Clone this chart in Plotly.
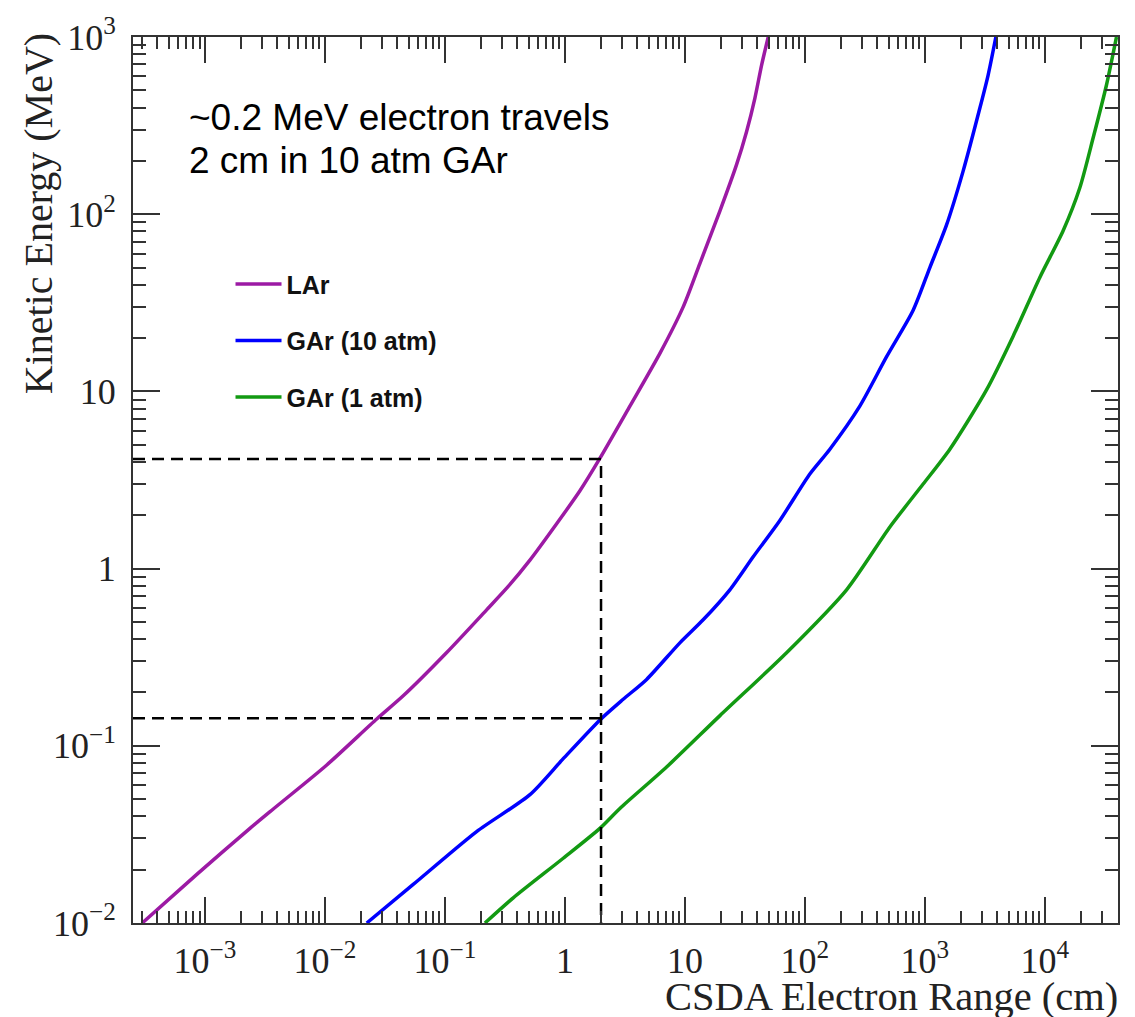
import numpy as np
import plotly.graph_objects as go

# ---------------- data ----------------
lar_range_cm = [3.0e-4, 8.5e-4, 2.37e-3, 3.71e-3, 1.03e-2, 2.70e-2, 4.49e-2, 0.103, 0.2225,
                0.337, 0.511, 0.853, 1.334, 1.96, 3.48, 6.19, 9.68, 13.3, 19.6, 27.0, 32.7,
                38.3, 43.6, 49.5]
lar_energy_mev = [0.0100, 0.01875, 0.0342, 0.0440, 0.0777, 0.1416, 0.1914, 0.335, 0.585,
                  0.793, 1.116, 1.79, 2.75, 4.2, 8.26, 16.4, 30.0, 52.5, 104.5, 191, 293,
                  451, 694, 1000]

gar10_range_cm = [0.0223, 0.0544, 0.1837, 0.511, 0.968, 1.96, 3.06, 4.80, 9.08, 14.2, 23.7,
                  37.1, 61.9, 110, 161.6, 287, 480, 799, 1101, 1517, 2085, 2872, 3370, 3908]
gar10_energy_mev = [0.0100, 0.0165, 0.0328, 0.0530, 0.0846, 0.140, 0.183, 0.237, 0.381, 0.514,
                    0.759, 1.166, 1.87, 3.42, 4.72, 8.26, 15.7, 28.7, 50.0, 87.0, 175, 396,
                    610, 1000]

gar1_range_cm = [0.2155, 0.371, 0.968, 1.957, 2.873, 7.04, 19.6, 70.4, 222.6, 511, 968, 1616,
                 3266, 5445, 9085, 14210, 19580, 25260, 32660, 39560]
gar1_energy_mev = [0.0100, 0.01387, 0.0232, 0.0342, 0.0443, 0.0759, 0.148, 0.335, 0.759,
                   1.718, 3.00, 4.72, 10.2, 20.5, 44.0, 80.7, 141, 269, 536, 1000]

series_names = ["LAr", "GAr (10 atm)", "GAr (1 atm)"]
series_colors = ["#9c1aa4", "#0000ff", "#129a12"]

# reference guide lines: 2 cm range, energies in LAr and GAr(10 atm)
guide_range_cm = 2.0
guide_energies_mev = [4.15, 0.143]

# axis ranges (log10) and tick labels
x_range_log = [-3.6, 4.61]
y_range_log = [-2, 3]
x_tick_vals = [1e-3, 1e-2, 1e-1, 1, 10, 1e2, 1e3, 1e4]
x_tick_text = ["10<sup>−3</sup>", "10<sup>−2</sup>", "10<sup>−1</sup>", "1", "10",
               "10<sup>2</sup>", "10<sup>3</sup>", "10<sup>4</sup>"]
y_tick_vals = [1e-2, 1e-1, 1, 10, 1e2, 1e3]
y_tick_text = ["10<sup>−2</sup>", "10<sup>−1</sup>", "1", "10", "10<sup>2</sup>", "10<sup>3</sup>"]


def minor_vals(lo, hi):
    out = []
    for e in range(int(np.floor(lo)), int(np.ceil(hi)) + 1):
        for k in range(2, 10):
            v = k * 10.0 ** e
            if lo <= np.log10(v) <= hi:
                out.append(v)
    return out


fig = go.Figure()
for name, xs, ys, col in zip(series_names,
                             [lar_range_cm, gar10_range_cm, gar1_range_cm],
                             [lar_energy_mev, gar10_energy_mev, gar1_energy_mev],
                             series_colors):
    fig.add_trace(go.Scatter(x=xs, y=ys, mode="lines", name=name, legendgroup=name,
                             line=dict(color=col, width=3.5, shape="spline", smoothing=0.7)))

x_left = 10 ** x_range_log[0]
y_bottom = 10 ** y_range_log[0]
dash_style = dict(color="black", width=2.5, dash="12px,7px")
fig.add_trace(go.Scatter(x=[x_left, guide_range_cm, guide_range_cm],
                         y=[guide_energies_mev[0], guide_energies_mev[0], y_bottom],
                         mode="lines", line=dash_style, showlegend=False, hoverinfo="skip"))
fig.add_trace(go.Scatter(x=[x_left, guide_range_cm],
                         y=[guide_energies_mev[1], guide_energies_mev[1]],
                         mode="lines", line=dash_style, showlegend=False, hoverinfo="skip"))

frame_col = "#333333"
common = dict(type="log", showgrid=False, zeroline=False, showline=True, linecolor=frame_col,
              linewidth=2, mirror="allticks", ticks="inside", tickcolor=frame_col, tickwidth=2,
              tickmode="array",
              tickfont=dict(family="Liberation Serif", size=36, color="#222222"))

fig.update_xaxes(**common, range=x_range_log, tickvals=x_tick_vals, ticktext=x_tick_text,
                 ticklen=26, ticklabelstandoff=5,
                 minor=dict(ticks="inside", ticklen=12, tickwidth=2, tickcolor=frame_col,
                            showgrid=False, tickvals=minor_vals(*x_range_log)))
fig.update_yaxes(**common, range=y_range_log, tickvals=y_tick_vals, ticktext=y_tick_text,
                 ticklen=27, ticklabelstandoff=8,
                 minor=dict(ticks="inside", ticklen=13, tickwidth=2, tickcolor=frame_col,
                            showgrid=False, tickvals=minor_vals(*y_range_log)))

fig.update_layout(
    width=1135, height=1017,
    margin=dict(l=133, r=17, t=30, b=94),
    paper_bgcolor="white", plot_bgcolor="white",
    showlegend=True,
    legend=dict(x=0.099, y=0.747, xanchor="left", yanchor="top",
                bgcolor="rgba(0,0,0,0)", tracegroupgap=21, itemwidth=46,
                font=dict(family="Liberation Sans", size=25, color="#111111", weight="bold")),
    annotations=[
        dict(text="CSDA Electron Range (cm)", xref="paper", yref="paper", x=1.002, y=-0.1105,
             xanchor="right", yanchor="bottom", showarrow=False,
             font=dict(family="Liberation Serif", size=40.5, color="#222222")),
        dict(text="Kinetic Energy (MeV)", xref="paper", yref="paper", x=-0.0964, y=0.800,
             xanchor="center", yanchor="middle", textangle=-90, showarrow=False,
             font=dict(family="Liberation Serif", size=40, color="#222222")),
        dict(text="~0.2 MeV electron travels", xref="paper", yref="paper", x=0.0548, y=0.9093,
             xanchor="left", yanchor="middle", showarrow=False,
             font=dict(family="Liberation Sans", size=37, color="black")),
        dict(text="2 cm in 10 atm GAr", xref="paper", yref="paper", x=0.0548, y=0.8606,
             xanchor="left", yanchor="middle", showarrow=False,
             font=dict(family="Liberation Sans", size=37, color="black")),
    ],
)

fig.write_html("out.html")
